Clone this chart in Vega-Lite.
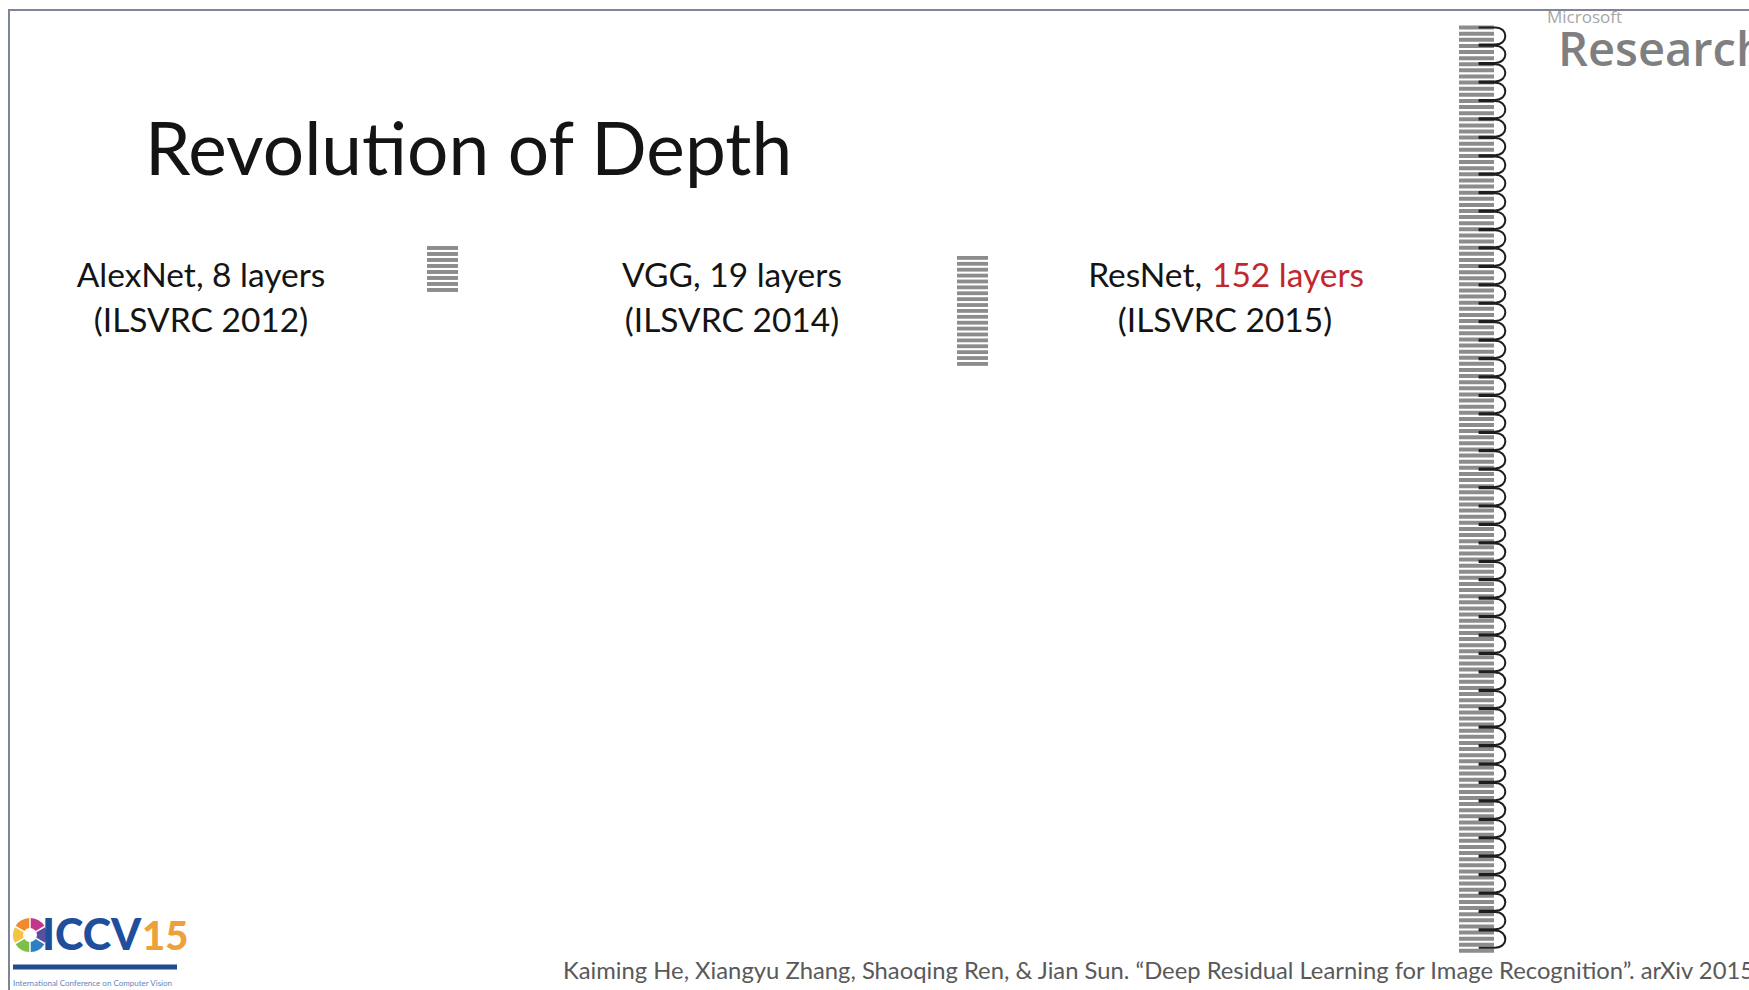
{
  "$schema": "https://vega.github.io/schema/vega-lite/v6.json",
  "width": 1749,
  "height": 990,
  "autosize": "none",
  "padding": 0,
  "background": "white",
  "config": {"view": {"stroke": null}, "axis": {"disable": true}, "legend": {"disable": true}},
  "resolve": {"scale": {"y": "independent"}},
  "datasets": {
    "frame": [{"x": 8, "x2": 1749, "y": 10, "y2": 10}, {"x": 9, "x2": 9, "y": 10, "y2": 990}],
    "texts": [
      {"text": "Revolution of Depth", "x": 145, "y": 175, "style": "title"},
      {"text": "AlexNet, 8 layers", "x": 201, "y": 287, "style": "label"},
      {"text": "(ILSVRC 2012)", "x": 201, "y": 332, "style": "label"},
      {"text": "VGG, 19 layers", "x": 732, "y": 287, "style": "label"},
      {"text": "(ILSVRC 2014)", "x": 732, "y": 332, "style": "label"},
      {"text": "(ILSVRC 2015)", "x": 1225, "y": 332, "style": "label"},
      {"text": "ResNet,", "x": 1202, "y": 287, "style": "labelRight"},
      {"text": "152 layers", "x": 1212, "y": 287, "style": "red"},
      {"text": "Kaiming He, Xiangyu Zhang, Shaoqing Ren, & Jian Sun. “Deep Residual Learning for Image Recognition”. arXiv 2015", "x": 563, "y": 979, "style": "footer"},
      {"text": "Microsoft", "x": 1547, "y": 23, "style": "ms"},
      {"text": "Research", "x": 1558, "y": 66, "style": "research"},
      {"text": "ICCV", "x": 42, "y": 950, "style": "iccv"},
      {"text": "15", "x": 142, "y": 950, "style": "iccv15"},
      {"text": "International Conference on Computer Vision", "x": 13, "y": 986, "style": "tiny"}
    ],
    "logobar": [{"x": 13, "x2": 177, "y": 967}],
    "wheel": [
      {"seg": "a", "v": 1, "cx": 30, "cy": 935},
      {"seg": "b", "v": 1, "cx": 30, "cy": 935},
      {"seg": "c", "v": 1, "cx": 30, "cy": 935},
      {"seg": "d", "v": 1, "cx": 30, "cy": 935},
      {"seg": "e", "v": 1, "cx": 30, "cy": 935},
      {"seg": "f", "v": 1, "cx": 30, "cy": 935}
    ],
    "alex": [{"layer":1},{"layer":2},{"layer":3},{"layer":4},{"layer":5},{"layer":6},{"layer":7},{"layer":8}],
    "vgg": [{"layer":1},{"layer":2},{"layer":3},{"layer":4},{"layer":5},{"layer":6},{"layer":7},{"layer":8},{"layer":9},{"layer":10},{"layer":11},{"layer":12},{"layer":13},{"layer":14},{"layer":15},{"layer":16},{"layer":17},{"layer":18},{"layer":19}],
    "resnet": [{"layer":1},{"layer":2},{"layer":3},{"layer":4},{"layer":5},{"layer":6},{"layer":7},{"layer":8},{"layer":9},{"layer":10},{"layer":11},{"layer":12},{"layer":13},{"layer":14},{"layer":15},{"layer":16},{"layer":17},{"layer":18},{"layer":19},{"layer":20},{"layer":21},{"layer":22},{"layer":23},{"layer":24},{"layer":25},{"layer":26},{"layer":27},{"layer":28},{"layer":29},{"layer":30},{"layer":31},{"layer":32},{"layer":33},{"layer":34},{"layer":35},{"layer":36},{"layer":37},{"layer":38},{"layer":39},{"layer":40},{"layer":41},{"layer":42},{"layer":43},{"layer":44},{"layer":45},{"layer":46},{"layer":47},{"layer":48},{"layer":49},{"layer":50},{"layer":51},{"layer":52},{"layer":53},{"layer":54},{"layer":55},{"layer":56},{"layer":57},{"layer":58},{"layer":59},{"layer":60},{"layer":61},{"layer":62},{"layer":63},{"layer":64},{"layer":65},{"layer":66},{"layer":67},{"layer":68},{"layer":69},{"layer":70},{"layer":71},{"layer":72},{"layer":73},{"layer":74},{"layer":75},{"layer":76},{"layer":77},{"layer":78},{"layer":79},{"layer":80},{"layer":81},{"layer":82},{"layer":83},{"layer":84},{"layer":85},{"layer":86},{"layer":87},{"layer":88},{"layer":89},{"layer":90},{"layer":91},{"layer":92},{"layer":93},{"layer":94},{"layer":95},{"layer":96},{"layer":97},{"layer":98},{"layer":99},{"layer":100},{"layer":101},{"layer":102},{"layer":103},{"layer":104},{"layer":105},{"layer":106},{"layer":107},{"layer":108},{"layer":109},{"layer":110},{"layer":111},{"layer":112},{"layer":113},{"layer":114},{"layer":115},{"layer":116},{"layer":117},{"layer":118},{"layer":119},{"layer":120},{"layer":121},{"layer":122},{"layer":123},{"layer":124},{"layer":125},{"layer":126},{"layer":127},{"layer":128},{"layer":129},{"layer":130},{"layer":131},{"layer":132},{"layer":133},{"layer":134},{"layer":135},{"layer":136},{"layer":137},{"layer":138},{"layer":139},{"layer":140},{"layer":141},{"layer":142},{"layer":143},{"layer":144},{"layer":145},{"layer":146},{"layer":147},{"layer":148},{"layer":149},{"layer":150},{"layer":151},{"layer":152}],
    "blocks": [{"block":1},{"block":2},{"block":3},{"block":4},{"block":5},{"block":6},{"block":7},{"block":8},{"block":9},{"block":10},{"block":11},{"block":12},{"block":13},{"block":14},{"block":15},{"block":16},{"block":17},{"block":18},{"block":19},{"block":20},{"block":21},{"block":22},{"block":23},{"block":24},{"block":25},{"block":26},{"block":27},{"block":28},{"block":29},{"block":30},{"block":31},{"block":32},{"block":33},{"block":34},{"block":35},{"block":36},{"block":37},{"block":38},{"block":39},{"block":40},{"block":41},{"block":42},{"block":43},{"block":44},{"block":45},{"block":46},{"block":47},{"block":48},{"block":49},{"block":50}]
  },
  "layer": [
    {
      "data": {"name": "frame"},
      "mark": {"type": "rule", "color": "#7d8597", "strokeWidth": 2},
      "encoding": {
        "x": {"field": "x", "type": "quantitative", "scale": {"domain": [0, 1749], "zero": false, "nice": false}},
        "x2": {"field": "x2"},
        "y": {"field": "y", "type": "quantitative", "scale": {"domain": [0, 990], "reverse": true, "zero": false, "nice": false}},
        "y2": {"field": "y2"}
      }
    },
    {
      "data": {"name": "alex"},
      "mark": {"type": "rule", "color": "#8c8c8c", "strokeWidth": 3.9},
      "encoding": {
        "x": {"datum": 427, "type": "quantitative", "scale": {"domain": [0, 1749], "zero": false, "nice": false}},
        "x2": {"datum": 458},
        "y": {"field": "layer", "type": "quantitative", "scale": {"domain": [-40.33, 124.67], "reverse": true, "zero": false, "nice": false}}
      }
    },
    {
      "data": {"name": "vgg"},
      "mark": {"type": "rule", "color": "#8c8c8c", "strokeWidth": 3.8},
      "encoding": {
        "x": {"datum": 957, "type": "quantitative", "scale": {"domain": [0, 1749], "zero": false, "nice": false}},
        "x2": {"datum": 988},
        "y": {"field": "layer", "type": "quantitative", "scale": {"domain": [-42.79, 125.3], "reverse": true, "zero": false, "nice": false}}
      }
    },
    {
      "data": {"name": "resnet"},
      "mark": {"type": "rule", "color": "#8c8c8c", "strokeWidth": 4},
      "encoding": {
        "x": {"datum": 1459, "type": "quantitative", "scale": {"domain": [0, 1749], "zero": false, "nice": false}},
        "x2": {"datum": 1494},
        "y": {"field": "layer", "type": "quantitative", "scale": {"domain": [-3.506, 158.4], "reverse": true, "zero": false, "nice": false}}
      }
    },
    {
      "data": {"name": "blocks"},
      "mark": {"type": "point", "shape": "M-1.9,-1 L0,-1 C1.6,-1 1.6,1 0,1 L-1.9,1", "size": 296, "filled": false, "stroke": "#1e1e1e", "strokeWidth": 2, "opacity": 1},
      "encoding": {
        "x": {"datum": 1495, "type": "quantitative", "scale": {"domain": [0, 1749], "zero": false, "nice": false}},
        "y": {"field": "block", "type": "quantitative", "scale": {"domain": [-0.953, 52.76], "reverse": true, "zero": false, "nice": false}}
      }
    },
    {
      "data": {"name": "logobar"},
      "mark": {"type": "rule", "color": "#1f4e8c", "strokeWidth": 5},
      "encoding": {
        "x": {"field": "x", "type": "quantitative", "scale": {"domain": [0, 1749], "zero": false, "nice": false}},
        "x2": {"field": "x2"},
        "y": {"field": "y", "type": "quantitative", "scale": {"domain": [0, 990], "reverse": true, "zero": false, "nice": false}}
      }
    },
    {
      "data": {"name": "wheel"},
      "mark": {"type": "arc", "outerRadius": 17, "innerRadius": 7, "padAngle": 0.08},
      "encoding": {
        "theta": {"field": "v", "type": "quantitative", "stack": true},
        "color": {"field": "seg", "type": "nominal", "scale": {"domain": ["a","b","c","d","e","f"], "range": ["#c2378b", "#5b4ea0", "#2d7fc1", "#7cbf4a", "#f5c342", "#f08a2c"]}},
        "x": {"field": "cx", "type": "quantitative", "scale": {"domain": [0, 1749], "zero": false, "nice": false}},
        "y": {"field": "cy", "type": "quantitative", "scale": {"domain": [0, 990], "reverse": true, "zero": false, "nice": false}}
      }
    },
    {
      "data": {"name": "texts"},
      "transform": [{"filter": "datum.style == 'title'"}],
      "mark": {"type": "text", "font": "Lato", "fontSize": 73, "align": "left", "baseline": "alphabetic", "color": "#141414"},
      "encoding": {
        "text": {"field": "text"},
        "x": {"field": "x", "type": "quantitative", "scale": {"domain": [0, 1749], "zero": false, "nice": false}},
        "y": {"field": "y", "type": "quantitative", "scale": {"domain": [0, 990], "reverse": true, "zero": false, "nice": false}}
      }
    },
    {
      "data": {"name": "texts"},
      "transform": [{"filter": "datum.style == 'label'"}],
      "mark": {"type": "text", "font": "Lato", "fontSize": 33.5, "align": "center", "baseline": "alphabetic", "color": "#141414"},
      "encoding": {
        "text": {"field": "text"},
        "x": {"field": "x", "type": "quantitative", "scale": {"domain": [0, 1749], "zero": false, "nice": false}},
        "y": {"field": "y", "type": "quantitative", "scale": {"domain": [0, 990], "reverse": true, "zero": false, "nice": false}}
      }
    },
    {
      "data": {"name": "texts"},
      "transform": [{"filter": "datum.style == 'labelRight'"}],
      "mark": {"type": "text", "font": "Lato", "fontSize": 33.5, "align": "right", "baseline": "alphabetic", "color": "#141414"},
      "encoding": {
        "text": {"field": "text"},
        "x": {"field": "x", "type": "quantitative", "scale": {"domain": [0, 1749], "zero": false, "nice": false}},
        "y": {"field": "y", "type": "quantitative", "scale": {"domain": [0, 990], "reverse": true, "zero": false, "nice": false}}
      }
    },
    {
      "data": {"name": "texts"},
      "transform": [{"filter": "datum.style == 'red'"}],
      "mark": {"type": "text", "font": "Lato", "fontSize": 33.5, "align": "left", "baseline": "alphabetic", "color": "#c0282d"},
      "encoding": {
        "text": {"field": "text"},
        "x": {"field": "x", "type": "quantitative", "scale": {"domain": [0, 1749], "zero": false, "nice": false}},
        "y": {"field": "y", "type": "quantitative", "scale": {"domain": [0, 990], "reverse": true, "zero": false, "nice": false}}
      }
    },
    {
      "data": {"name": "texts"},
      "transform": [{"filter": "datum.style == 'footer'"}],
      "mark": {"type": "text", "font": "Lato", "fontSize": 23.8, "align": "left", "baseline": "alphabetic", "color": "#595959"},
      "encoding": {
        "text": {"field": "text"},
        "x": {"field": "x", "type": "quantitative", "scale": {"domain": [0, 1749], "zero": false, "nice": false}},
        "y": {"field": "y", "type": "quantitative", "scale": {"domain": [0, 990], "reverse": true, "zero": false, "nice": false}}
      }
    },
    {
      "data": {"name": "texts"},
      "transform": [{"filter": "datum.style == 'ms'"}],
      "mark": {"type": "text", "font": "Open Sans", "fontSize": 17, "align": "left", "baseline": "alphabetic", "color": "#a6a6a6"},
      "encoding": {
        "text": {"field": "text"},
        "x": {"field": "x", "type": "quantitative", "scale": {"domain": [0, 1749], "zero": false, "nice": false}},
        "y": {"field": "y", "type": "quantitative", "scale": {"domain": [0, 990], "reverse": true, "zero": false, "nice": false}}
      }
    },
    {
      "data": {"name": "texts"},
      "transform": [{"filter": "datum.style == 'research'"}],
      "mark": {"type": "text", "font": "Open Sans", "fontSize": 47, "fontWeight": 600, "align": "left", "baseline": "alphabetic", "color": "#7f7f7f"},
      "encoding": {
        "text": {"field": "text"},
        "x": {"field": "x", "type": "quantitative", "scale": {"domain": [0, 1749], "zero": false, "nice": false}},
        "y": {"field": "y", "type": "quantitative", "scale": {"domain": [0, 990], "reverse": true, "zero": false, "nice": false}}
      }
    },
    {
      "data": {"name": "texts"},
      "transform": [{"filter": "datum.style == 'iccv'"}],
      "mark": {"type": "text", "font": "Lato", "fontSize": 43, "fontWeight": 900, "align": "left", "baseline": "alphabetic", "color": "#1f4e9c", "letterSpacing": -1.5},
      "encoding": {
        "text": {"field": "text"},
        "x": {"field": "x", "type": "quantitative", "scale": {"domain": [0, 1749], "zero": false, "nice": false}},
        "y": {"field": "y", "type": "quantitative", "scale": {"domain": [0, 990], "reverse": true, "zero": false, "nice": false}}
      }
    },
    {
      "data": {"name": "texts"},
      "transform": [{"filter": "datum.style == 'iccv15'"}],
      "mark": {"type": "text", "font": "Lato", "fontSize": 40, "fontWeight": 900, "align": "left", "baseline": "alphabetic", "color": "#eda13a", "letterSpacing": -2},
      "encoding": {
        "text": {"field": "text"},
        "x": {"field": "x", "type": "quantitative", "scale": {"domain": [0, 1749], "zero": false, "nice": false}},
        "y": {"field": "y", "type": "quantitative", "scale": {"domain": [0, 990], "reverse": true, "zero": false, "nice": false}}
      }
    },
    {
      "data": {"name": "texts"},
      "transform": [{"filter": "datum.style == 'tiny'"}],
      "mark": {"type": "text", "font": "Lato", "fontSize": 8, "align": "left", "baseline": "alphabetic", "color": "#5f85bf"},
      "encoding": {
        "text": {"field": "text"},
        "x": {"field": "x", "type": "quantitative", "scale": {"domain": [0, 1749], "zero": false, "nice": false}},
        "y": {"field": "y", "type": "quantitative", "scale": {"domain": [0, 990], "reverse": true, "zero": false, "nice": false}}
      }
    }
  ]
}
